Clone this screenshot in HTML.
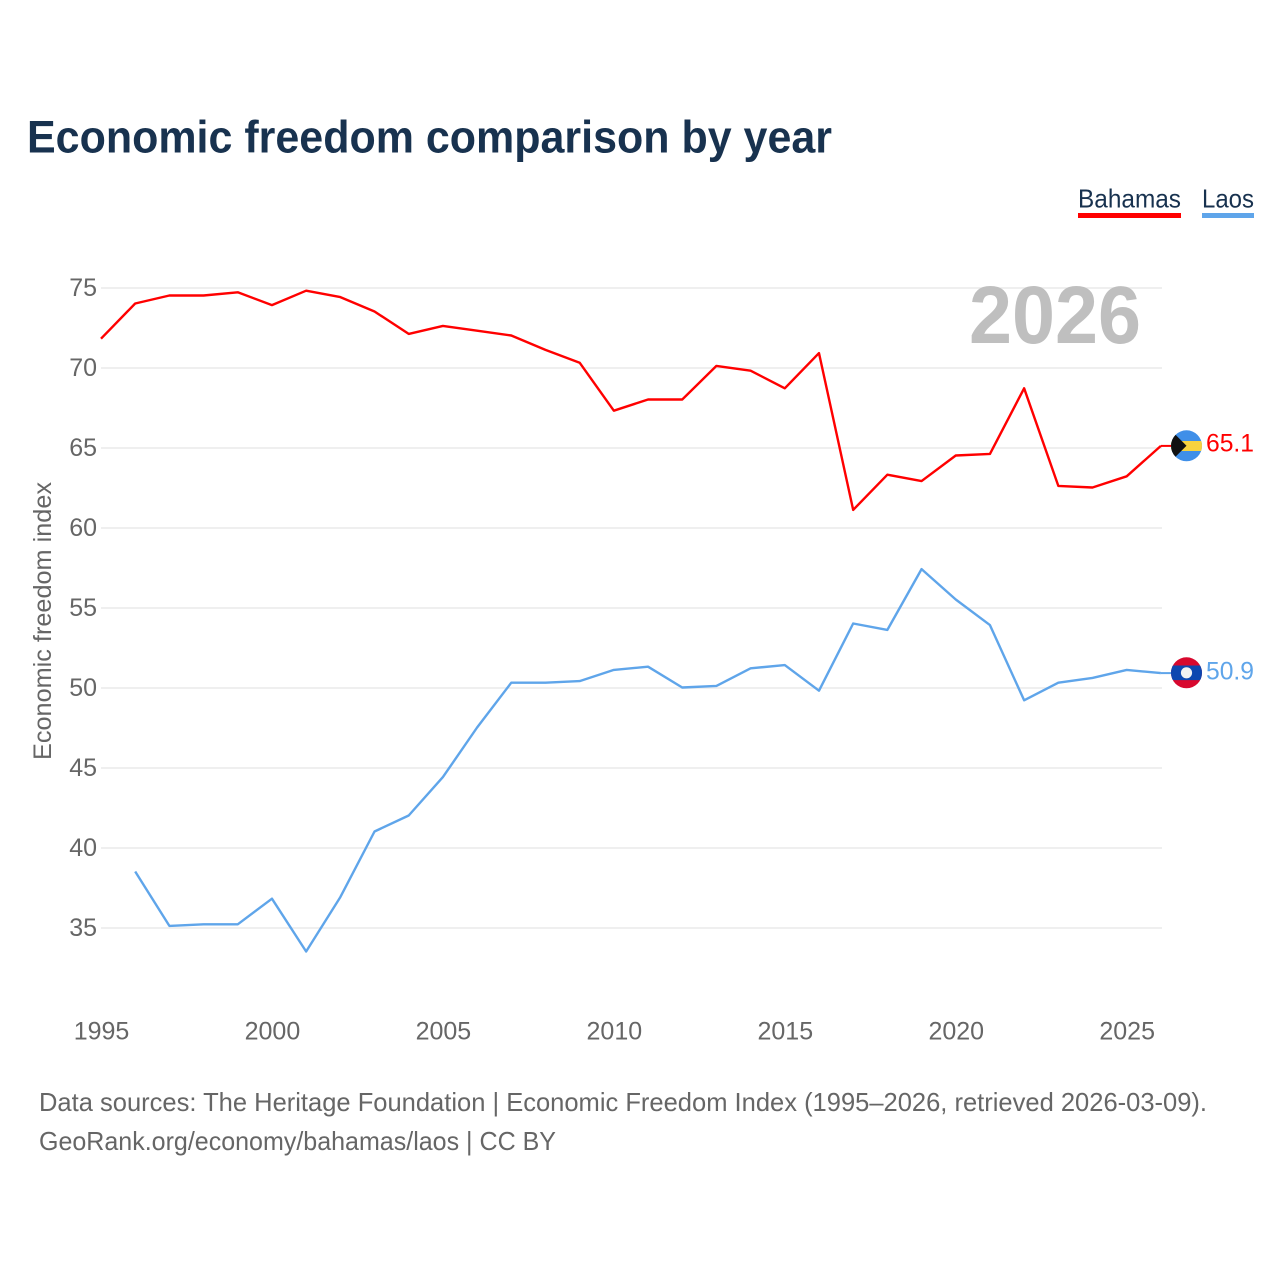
<!DOCTYPE html>
<html>
<head>
<meta charset="utf-8">
<title>Economic freedom comparison by year</title>
<style>
html,body{margin:0;padding:0;background:#fff;width:1280px;height:1280px;overflow:hidden}
svg{display:block}
text{font-family:"Liberation Sans",sans-serif}
</style>
</head>
<body>
<svg id="chart" width="1280" height="1280" viewBox="0 0 1280 1280" xmlns="http://www.w3.org/2000/svg">
  <defs>
    <clipPath id="clip-bs"><circle cx="1186.5" cy="445.8" r="15.5"/></clipPath>
    <clipPath id="clip-la"><circle cx="1186.5" cy="672.8" r="15.5"/></clipPath>
  </defs>
  <rect width="1280" height="1280" fill="#fff"/>
  <text x="27" y="152.5" font-size="45" font-weight="700" fill="#18324f" textLength="805" lengthAdjust="spacingAndGlyphs">Economic freedom comparison by year</text>

  <g>
    <g>
      <text x="1078" y="207.5" font-size="26" fill="#18324f" textLength="103" lengthAdjust="spacingAndGlyphs">Bahamas</text>
      <rect x="1078" y="213" width="103" height="5" fill="#ff0000"/>
    </g>
    <g>
      <text x="1202" y="207.5" font-size="26" fill="#18324f" textLength="52" lengthAdjust="spacingAndGlyphs">Laos</text>
      <rect x="1202" y="213" width="52" height="5" fill="#5fa5ea"/>
    </g>
  </g>

  <g id="grid"></g>
  <g id="yticks"></g>
  <g id="xticks"></g>

  <text x="1055" y="343" font-size="82" font-weight="700" fill="#bfbfbf" text-anchor="middle" textLength="172" lengthAdjust="spacingAndGlyphs">2026</text>

  <text transform="translate(51 621) rotate(-90)" font-size="25" fill="#666" text-anchor="middle" textLength="278" lengthAdjust="spacingAndGlyphs">Economic freedom index</text>

  <path id="line-bahamas" fill="none" stroke="#ff0000" stroke-width="2.4" stroke-linejoin="round"></path>
  <path id="line-laos" fill="none" stroke="#5fa5ea" stroke-width="2.4" stroke-linejoin="round"></path>
  <line id="stub-bahamas" stroke="#ff0000" stroke-width="2"></line>
  <line id="stub-laos" stroke="#5fa5ea" stroke-width="2"></line>

  <g id="flag-bahamas">
    <g clip-path="url(#clip-bs)">
      <rect x="1170" y="429" width="33" height="34" fill="#3f8fe8"/>
      <rect x="1170" y="441" width="33" height="10" fill="#f7d23e"/>
      <polygon points="1166,425.3 1186.5,445.8 1166,466.3" fill="#111"/>
    </g>
  </g>
  <g id="flag-laos">
    <g clip-path="url(#clip-la)">
      <rect x="1170" y="656" width="33" height="34" fill="#d8082e"/>
      <rect x="1170" y="665.5" width="33" height="14.6" fill="#0d47b0"/>
      <circle cx="1186.5" cy="672.8" r="5.6" fill="#f2f2f2"/>
    </g>
  </g>

  <text id="value-bahamas" x="1206" y="451.5" font-size="25" fill="#ff0000" textLength="48" lengthAdjust="spacingAndGlyphs"></text>
  <text id="value-laos" x="1206" y="679.5" font-size="25" fill="#5fa5ea" textLength="48" lengthAdjust="spacingAndGlyphs"></text>

  <text x="39" y="1111" font-size="26" fill="#666" textLength="1168" lengthAdjust="spacingAndGlyphs">Data sources: The Heritage Foundation | Economic Freedom Index (1995–2026, retrieved 2026-03-09).</text>
  <text x="39" y="1150" font-size="26" fill="#666" textLength="517" lengthAdjust="spacingAndGlyphs">GeoRank.org/economy/bahamas/laos | CC BY</text>
</svg>
<script>
const years = [1995,1996,1997,1998,1999,2000,2001,2002,2003,2004,2005,2006,2007,2008,2009,2010,2011,2012,2013,2014,2015,2016,2017,2018,2019,2020,2021,2022,2023,2024,2025,2026];
const bahamas = [71.8,74.0,74.5,74.5,74.7,73.9,74.8,74.4,73.5,72.1,72.6,72.3,72.0,71.1,70.3,67.3,68.0,68.0,70.1,69.8,68.7,70.9,61.1,63.3,62.9,64.5,64.6,68.7,62.6,62.5,63.2,65.1];
const laos = [null,38.5,35.1,35.2,35.2,36.8,33.5,36.9,41.0,42.0,44.4,47.5,50.3,50.3,50.4,51.1,51.3,50.0,50.1,51.2,51.4,49.8,54.0,53.6,57.4,55.5,53.9,49.2,50.3,50.6,51.1,50.9];
const yTickLabels = [35,40,45,50,55,60,65,70,75];
const xTickLabels = [1995,2000,2005,2010,2015,2020,2025];

const NS = 'http://www.w3.org/2000/svg';
function xScale(year) { return 101 + (year - 1995) * 34.19; }
function yScale(value) { return 288 + (75 - value) * 16; }
function linePath(series) {
  let d = '';
  series.forEach(function (v, i) {
    if (v === null) return;
    d += (d ? 'L' : 'M') + xScale(years[i]).toFixed(2) + ' ' + (yScale(v) - 0.5).toFixed(2);
  });
  return d;
}

const gridGroup = document.getElementById('grid');
const yGroup = document.getElementById('yticks');
const xGroup = document.getElementById('xticks');

yTickLabels.forEach(function (t) {
  const line = document.createElementNS(NS, 'line');
  line.setAttribute('x1', 101);
  line.setAttribute('x2', 1162);
  line.setAttribute('y1', yScale(t));
  line.setAttribute('y2', yScale(t));
  line.setAttribute('stroke', '#efefef');
  line.setAttribute('stroke-width', 2);
  
  
  gridGroup.appendChild(line);

  const label = document.createElementNS(NS, 'text');
  label.setAttribute('x', 97);
  label.setAttribute('y', yScale(t) + 8);
  label.setAttribute('text-anchor', 'end');
  label.setAttribute('font-size', 25);
  label.setAttribute('fill', '#666');
  label.textContent = t;
  
  
  yGroup.appendChild(label);
});

xTickLabels.forEach(function (t) {
  const label = document.createElementNS(NS, 'text');
  label.setAttribute('x', xScale(t) + 0.5);
  label.setAttribute('y', 1039.5);
  label.setAttribute('text-anchor', 'middle');
  label.setAttribute('font-size', 25);
  label.setAttribute('fill', '#666');
  label.textContent = t;
  
  
  xGroup.appendChild(label);
});

document.getElementById('line-bahamas').setAttribute('d', linePath(bahamas));
document.getElementById('line-laos').setAttribute('d', linePath(laos));

function placeEnd(series, key) {
  const last = series[series.length - 1];
  const x = xScale(years[years.length - 1]);
  const y = yScale(last) - 0.5;
  const stub = document.getElementById('stub-' + key);
  stub.setAttribute('x1', x);
  stub.setAttribute('x2', 1172);
  stub.setAttribute('y1', y);
  stub.setAttribute('y2', y);
  document.getElementById('value-' + key).textContent = last.toFixed(1);
}
placeEnd(bahamas, 'bahamas');
placeEnd(laos, 'laos');
</script>
</body>
</html>
